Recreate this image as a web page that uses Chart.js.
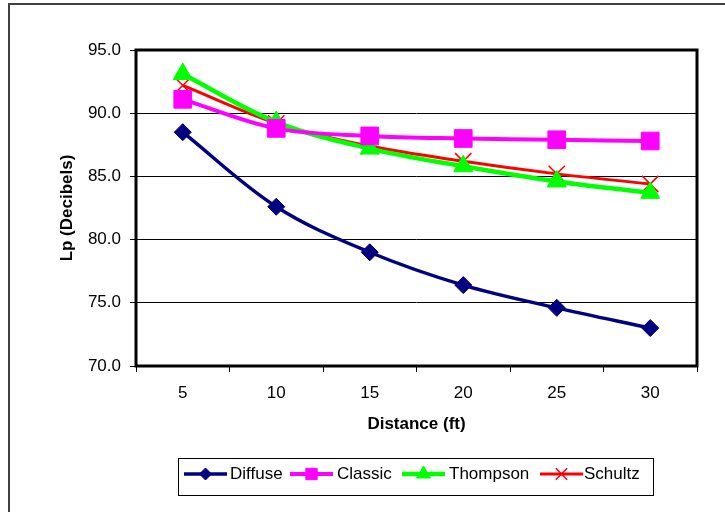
<!DOCTYPE html>
<html>
<head>
<meta charset="utf-8">
<script src="https://cdn.jsdelivr.net/npm/chart.js@4"></script>
<style>
html,body{margin:0;padding:0;background:#fff;overflow:hidden;}
canvas{display:block;}
</style>
</head>
<body>
<canvas id="c" width="725" height="512"></canvas>
<script>
const distances = ['5', '10', '15', '20', '25', '30'];
const diffuse  = [88.5, 82.6, 79.0, 76.4, 74.6, 73.0];
const classic  = [91.1, 88.8, 88.2, 88.0, 87.9, 87.8];
const thompson = [93.1, 89.3, 87.2, 85.8, 84.6, 83.7];
const schultz  = [92.2, 89.2, 87.4, 86.2, 85.2, 84.4];
const yTicks = [70, 75, 80, 85, 90, 95];
const seriesNames = ['Diffuse', 'Classic', 'Thompson', 'Schultz'];

const FONT = "'Liberation Sans', Arial, sans-serif";

const framePlugin = {
  id: 'frame',
  beforeDraw(chart) {
    const ctx = chart.ctx;
    ctx.save();
    ctx.fillStyle = '#fff';
    ctx.fillRect(0, 0, chart.width, chart.height);
    ctx.strokeStyle = '#404040';
    ctx.lineWidth = 2;
    ctx.strokeRect(9, 4, 900, 700);
    ctx.restore();
  },
  beforeDatasetsDraw(chart) {
    const {ctx, chartArea: a} = chart;
    ctx.save();
    ctx.strokeStyle = '#000';
    ctx.lineWidth = 3;
    ctx.strokeRect(a.left, a.top, a.right - a.left, a.bottom - a.top);
    ctx.restore();
  },
  afterDraw(chart) {
    const ctx = chart.ctx;
    ctx.save();
    ctx.strokeStyle = '#000';
    ctx.lineWidth = 1;
    ctx.strokeRect(178.5, 458.5, 475, 37);
    const lineStarts = [184, 290, 402, 540];
    const textStarts = [230, 337, 449, 584];
    const legendRadius = [6, 8, 8, 8];
    const yMid = 474;
    chart.data.datasets.forEach((ds, i) => {
      const x0 = lineStarts[i], x1 = x0 + 43;
      ctx.strokeStyle = ds.borderColor;
      ctx.lineWidth = ds.borderWidth;
      ctx.beginPath();
      ctx.moveTo(x0, yMid);
      ctx.lineTo(x1, yMid);
      ctx.stroke();
      ctx.fillStyle = ds.pointBackgroundColor;
      ctx.strokeStyle = ds.pointBorderColor;
      ctx.lineWidth = ds.pointBorderWidth;
      Chart.helpers.drawPoint(ctx, {
        pointStyle: ds.pointStyle,
        radius: legendRadius[i],
        rotation: 0,
        borderWidth: ds.pointBorderWidth
      }, (x0 + x1) / 2, yMid);
      ctx.fillStyle = '#000';
      ctx.font = '17px ' + FONT;
      ctx.textBaseline = 'middle';
      ctx.textAlign = 'left';
      ctx.fillText(ds.label, textStarts[i], yMid);
    });
    ctx.restore();
  }
};

new Chart(document.getElementById('c'), {
  type: 'line',
  data: {
    labels: distances,
    datasets: [
      {
        label: seriesNames[0], data: diffuse,
        borderColor: '#000080', borderWidth: 3.5,
        pointStyle: 'rectRot', pointRadius: 8.5,
        pointBackgroundColor: '#000080', pointBorderColor: '#000080', pointBorderWidth: 1,
        tension: 0.35
      },
      {
        label: seriesNames[1], data: classic,
        borderColor: '#FF00FF', borderWidth: 4,
        pointStyle: 'rect', pointRadius: 12.5,
        pointBackgroundColor: '#FF00FF', pointBorderColor: '#FF00FF', pointBorderWidth: 1,
        tension: 0.35
      },
      {
        label: seriesNames[2], data: thompson,
        borderColor: '#00FF00', borderWidth: 4.5,
        pointStyle: 'triangle', pointRadius: 11,
        pointBackgroundColor: '#00FF00', pointBorderColor: '#00FF00', pointBorderWidth: 1,
        tension: 0.35
      },
      {
        label: seriesNames[3], data: schultz,
        borderColor: '#FF0000', borderWidth: 3,
        pointStyle: 'crossRot', pointRadius: 11.5,
        pointBackgroundColor: '#FF0000', pointBorderColor: '#FF0000', pointBorderWidth: 1.5,
        tension: 0.35
      }
    ]
  },
  options: {
    responsive: false,
    animation: false,
    layout: { padding: { top: 50, right: 28, left: 0, bottom: 0 } },
    plugins: { legend: { display: false }, tooltip: { enabled: false } },
    elements: { point: { hoverRadius: 0 } },
    scales: {
      x: {
        type: 'category',
        offset: true,
        afterFit: s => { s.height = 146; },
        grid: { display: true, offset: true, drawOnChartArea: false, color: '#000', tickLength: 6, lineWidth: 1 },
        border: { display: false },
        ticks: { color: '#000', font: { family: FONT, size: 17 }, padding: 11, maxRotation: 0 },
        title: {
          display: true, text: 'Distance (ft)', color: '#000',
          font: { family: FONT, size: 17, weight: 'bold' },
          padding: { top: 0, bottom: 77 }
        }
      },
      y: {
        min: 70, max: 95,
        afterFit: s => { s.width = 136; },
        afterBuildTicks: s => { s.ticks = yTicks.map(v => ({ value: v })); },
        grid: { color: '#000', lineWidth: 1, tickLength: 6 },
        border: { display: false },
        ticks: {
          color: '#000', font: { family: FONT, size: 17 }, padding: 9,
          callback: v => Number(v).toFixed(1)
        },
        title: {
          display: true, text: 'Lp (Decibels)', color: '#000',
          font: { family: FONT, size: 17, weight: 'bold' },
          padding: { top: 57, bottom: 0 }
        }
      }
    }
  },
  plugins: [framePlugin]
});
</script>
</body>
</html>
